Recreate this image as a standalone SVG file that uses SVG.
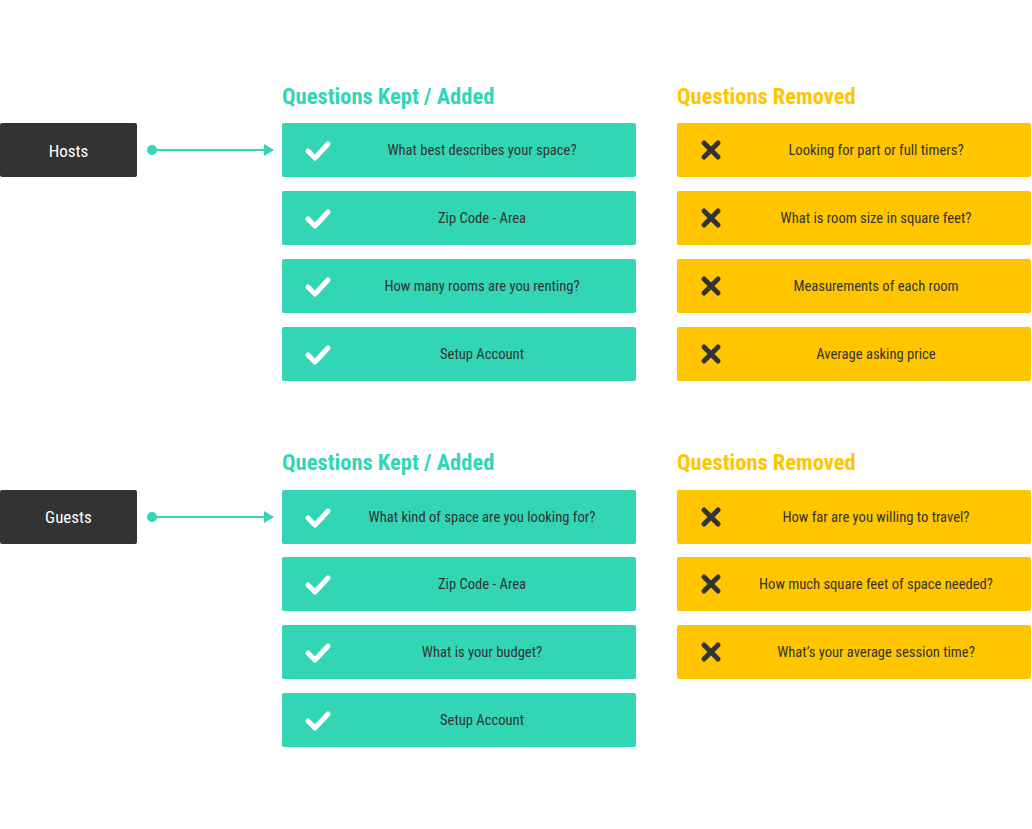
<svg xmlns="http://www.w3.org/2000/svg" width="1032" height="829" viewBox="0 0 1032 829">
<defs>
<style>
.src{fill:#333333}
.srct{fill:#ffffff;font-family:"Liberation Sans Narrow","Roboto Condensed","Liberation Sans",sans-serif;font-size:17px;text-anchor:middle}
.kept{fill:#32D6B5}
.rem{fill:#FFC600}
.lbl{fill:#333333;font-family:"Liberation Sans Narrow","Roboto Condensed","Liberation Sans",sans-serif;font-size:14.6px;text-anchor:middle}
.hk{fill:#32D6B5;font-family:"Liberation Sans Narrow","Roboto Condensed","Liberation Sans",sans-serif;font-size:22.5px;font-weight:bold}
.hr{fill:#FFC600;font-family:"Liberation Sans Narrow","Roboto Condensed","Liberation Sans",sans-serif;font-size:22.5px;font-weight:bold}
.chk{fill:none;stroke:#ffffff;stroke-width:5;stroke-linecap:round;stroke-linejoin:round}
.xx{fill:none;stroke:#333333;stroke-width:5;stroke-linecap:round}
.conn{stroke:#32D6B5;stroke-width:2;fill:none}
</style>
<marker id="arr" markerWidth="10" markerHeight="12" refX="9" refY="6" orient="auto" markerUnits="userSpaceOnUse">
<path d="M0,0 L10,6 L0,12 Z" fill="#32D6B5"/>
</marker>
<g id="check"><path class="chk" d="M-10,1 L-3,8 L10,-6"/></g>
<g id="cross"><path class="xx" d="M-7,-7 L7,7 M7,-7 L-7,7"/></g>
</defs>
<rect width="1032" height="829" fill="#ffffff"/>

<text class="hk" x="282" y="104">Questions Kept / Added</text>
<text class="hr" x="677" y="104">Questions Removed</text>
<text class="hk" x="282" y="470">Questions Kept / Added</text>
<text class="hr" x="677" y="470">Questions Removed</text>

<g id="connectors">
<circle cx="152" cy="150" r="5" fill="#32D6B5"/>
<line class="conn" x1="152" y1="150" x2="273" y2="150" marker-end="url(#arr)"/>
<circle cx="152" cy="517" r="5" fill="#32D6B5"/>
<line class="conn" x1="152" y1="517" x2="273" y2="517" marker-end="url(#arr)"/>
</g>

<g id="hosts"><rect class="src" x="0" y="123" width="137" height="54" rx="2"/><text class="srct" x="68.5" y="157">Hosts</text></g>
<g id="guests"><rect class="src" x="0" y="490" width="137" height="54" rx="2"/><text class="srct" x="68.5" y="523">Guests</text></g>

<g id="h-k1"><rect class="kept" x="282" y="123" width="354" height="54" rx="2"/><use href="#check" x="318" y="150"/><text class="lbl" x="482" y="155">What best describes your space?</text></g>
<g id="h-k2"><rect class="kept" x="282" y="191" width="354" height="54" rx="2"/><use href="#check" x="318" y="218"/><text class="lbl" x="482" y="223">Zip Code - Area</text></g>
<g id="h-k3"><rect class="kept" x="282" y="259" width="354" height="54" rx="2"/><use href="#check" x="318" y="286"/><text class="lbl" x="482" y="291">How many rooms are you renting?</text></g>
<g id="h-k4"><rect class="kept" x="282" y="327" width="354" height="54" rx="2"/><use href="#check" x="318" y="354"/><text class="lbl" x="482" y="359">Setup Account</text></g>

<g id="h-r1"><rect class="rem" x="677" y="123" width="354" height="54" rx="2"/><use href="#cross" x="711" y="150"/><text class="lbl" x="876" y="155">Looking for part or full timers?</text></g>
<g id="h-r2"><rect class="rem" x="677" y="191" width="354" height="54" rx="2"/><use href="#cross" x="711" y="218"/><text class="lbl" x="876" y="223">What is room size in square feet?</text></g>
<g id="h-r3"><rect class="rem" x="677" y="259" width="354" height="54" rx="2"/><use href="#cross" x="711" y="286"/><text class="lbl" x="876" y="291">Measurements of each room</text></g>
<g id="h-r4"><rect class="rem" x="677" y="327" width="354" height="54" rx="2"/><use href="#cross" x="711" y="354"/><text class="lbl" x="876" y="359">Average asking price</text></g>

<g id="g-k1"><rect class="kept" x="282" y="490" width="354" height="54" rx="2"/><use href="#check" x="318" y="517"/><text class="lbl" x="482" y="522">What kind of space are you looking for?</text></g>
<g id="g-k2"><rect class="kept" x="282" y="557" width="354" height="54" rx="2"/><use href="#check" x="318" y="584"/><text class="lbl" x="482" y="589">Zip Code - Area</text></g>
<g id="g-k3"><rect class="kept" x="282" y="625" width="354" height="54" rx="2"/><use href="#check" x="318" y="652"/><text class="lbl" x="482" y="657">What is your budget?</text></g>
<g id="g-k4"><rect class="kept" x="282" y="693" width="354" height="54" rx="2"/><use href="#check" x="318" y="720"/><text class="lbl" x="482" y="725">Setup Account</text></g>

<g id="g-r1"><rect class="rem" x="677" y="490" width="354" height="54" rx="2"/><use href="#cross" x="711" y="517"/><text class="lbl" x="876" y="522">How far are you willing to travel?</text></g>
<g id="g-r2"><rect class="rem" x="677" y="557" width="354" height="54" rx="2"/><use href="#cross" x="711" y="584"/><text class="lbl" x="876" y="589">How much square feet of space needed?</text></g>
<g id="g-r3"><rect class="rem" x="677" y="625" width="354" height="54" rx="2"/><use href="#cross" x="711" y="652"/><text class="lbl" x="876" y="657">What’s your average session time?</text></g>
</svg>
